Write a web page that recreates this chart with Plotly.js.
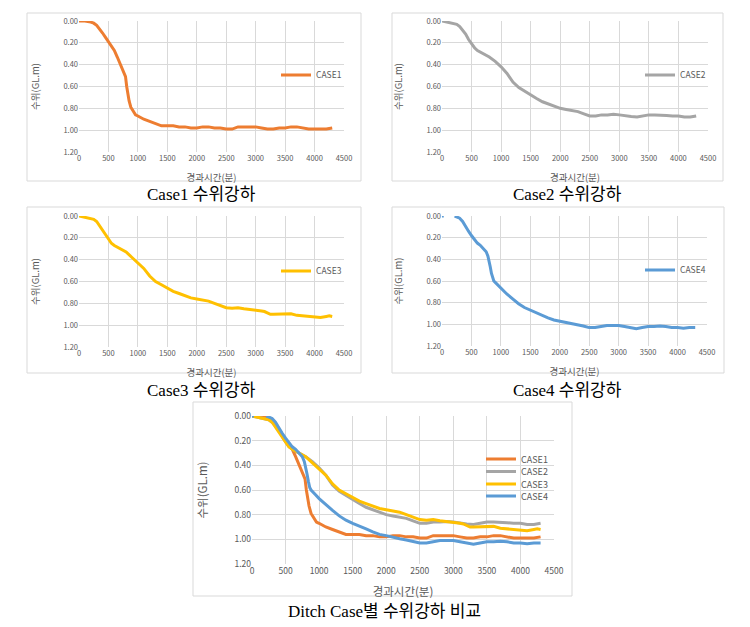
<!DOCTYPE html>
<html>
<head>
<meta charset="utf-8">
<script src="https://cdn.plot.ly/plotly-3.0.1.min.js"></script>
<style>html,body{margin:0;padding:0;background:#fff;}#chart{width:750px;height:627px;}</style>
</head>
<body>
<div id="chart"></div>
<script>
// ---- data (time in minutes, water level drop GL.m) ----
const t1 = [0,100,200,250,300,350,400,450,500,550,600,650,700,750,790,810,830,850,880,920,960,1000,1100,1200,1300,1400,1500,1600,1700,1800,1900,2000,2100,2200,2300,2400,2500,2600,2700,2800,2900,3000,3100,3200,3300,3400,3500,3600,3700,3800,3900,4000,4100,4200,4300];
const case1 = [0.00,0.00,0.01,0.02,0.04,0.07,0.11,0.15,0.19,0.23,0.27,0.33,0.40,0.46,0.51,0.60,0.68,0.73,0.79,0.83,0.86,0.87,0.90,0.92,0.94,0.96,0.96,0.96,0.97,0.97,0.98,0.98,0.97,0.97,0.98,0.98,0.99,0.99,0.97,0.97,0.97,0.97,0.98,0.99,0.99,0.98,0.98,0.97,0.97,0.98,0.99,0.99,0.99,0.99,0.98];

const t2 = [0,100,200,250,300,350,400,450,500,550,600,700,800,900,1000,1100,1200,1300,1400,1500,1600,1700,1800,1900,2000,2100,2200,2300,2400,2500,2600,2700,2800,2900,3000,3100,3200,3300,3400,3500,3600,3700,3800,3900,4000,4100,4200,4300];
const case2 = [0.00,0.01,0.02,0.03,0.05,0.08,0.12,0.17,0.21,0.245,0.27,0.30,0.33,0.37,0.42,0.48,0.56,0.61,0.645,0.68,0.71,0.74,0.76,0.78,0.80,0.81,0.82,0.83,0.85,0.87,0.87,0.86,0.86,0.855,0.86,0.87,0.875,0.88,0.87,0.86,0.86,0.86,0.865,0.87,0.87,0.88,0.88,0.87];

const t3 = [0,100,200,250,300,350,400,450,500,550,600,700,800,900,1000,1100,1200,1300,1400,1500,1600,1700,1800,1900,2000,2100,2200,2300,2400,2500,2600,2700,2800,2900,3000,3100,3150,3200,3250,3300,3400,3500,3600,3700,3800,3900,4000,4100,4200,4250,4300];
const case3 = [0.00,0.01,0.02,0.03,0.05,0.09,0.13,0.18,0.22,0.25,0.27,0.30,0.33,0.38,0.43,0.48,0.55,0.60,0.63,0.66,0.69,0.71,0.73,0.75,0.76,0.77,0.78,0.80,0.82,0.84,0.845,0.84,0.85,0.855,0.86,0.87,0.875,0.89,0.90,0.90,0.90,0.895,0.895,0.91,0.915,0.925,0.925,0.93,0.92,0.915,0.92];

const t4 = [0,30,100,215,250,300,350,400,450,500,550,600,650,700,750,780,800,820,840,860,880,900,950,1000,1100,1200,1300,1400,1500,1600,1700,1800,1900,2000,2100,2200,2300,2400,2500,2600,2700,2800,2900,3000,3100,3200,3300,3400,3500,3600,3700,3800,3900,4000,4100,4200,4300];
const case4 = [0.00,0.00,null,0.00,0.01,0.02,0.05,0.10,0.14,0.18,0.22,0.25,0.27,0.30,0.33,0.37,0.41,0.47,0.53,0.58,0.60,0.61,0.64,0.67,0.72,0.765,0.81,0.845,0.87,0.89,0.915,0.94,0.96,0.97,0.985,0.995,1.005,1.015,1.03,1.03,1.02,1.01,1.01,1.01,1.02,1.03,1.04,1.03,1.02,1.02,1.015,1.02,1.03,1.03,1.035,1.03,1.03];

const seriesNames = ['CASE1','CASE2','CASE3','CASE4'];
const seriesX = [t1,t2,t3,t4];
const seriesY = [case1,case2,case3,case4];
const colors = ['#ED7D31','#A5A5A5','#FFC000','#5B9BD5'];
const captions = ['Case1 수위강하','Case2 수위강하','Case3 수위강하','Case4 수위강하','Ditch Case별 수위강하 비교'];
const xTitle = '경과시간(분)';
const yTitle = '수위(GL.m)';

// ---- layout helpers (pixel -> paper) ----
const W = 750, H = 627;
const px = v => v / W;
const py = v => 1 - v / H;

// plot areas [left, right, top, bottom] in px
const areas = [
  [79, 344, 21, 152],
  [442, 708, 21, 152],
  [79, 344, 216, 347],
  [442, 707, 216, 346],
  [252, 554, 416, 564]
];
const boxes = [
  [27, 361, 13, 181],
  [392, 723, 13, 181],
  [27, 361, 207, 373],
  [392, 724, 207, 373],
  [193, 572, 402, 596]
];
const capPos = [[201,194],[567,194],[201,390],[567,390],[384,611]];

const axisFont = {family: 'Noto Sans CJK KR, Noto Sans, sans-serif', color: '#595959'};
const layout = {
  width: W, height: H,
  margin: {l:0, r:0, t:0, b:0},
  paper_bgcolor: '#fff', plot_bgcolor: 'rgba(0,0,0,0)',
  font: axisFont,
  shapes: [], annotations: []
};

areas.forEach((a, i) => {
  const big = i === 4;
  const k = i === 0 ? '' : String(i + 1);
  layout['xaxis' + k] = {
    domain: [px(a[0]), px(a[1])], anchor: 'y' + k,
    range: [0, 4500], tickmode: 'linear', dtick: 500, tick0: 0,
    showgrid: true, gridcolor: '#d9d9d9', gridwidth: 1,
    zeroline: false, showline: false, ticks: '',
    tickfont: {size: big ? 8.5 : 7.5, color: '#595959'},
    title: {text: xTitle, font: {size: big ? 11.5 : 9.5, color: '#595959'}, standoff: big ? 13 : 12}
  };
  layout['yaxis' + k] = {
    domain: [py(a[3]), py(a[2])], anchor: 'x' + k,
    range: [1.2, 0], tickmode: 'linear', tick0: 0, dtick: 0.2, tickformat: '.2f',
    showgrid: true, gridcolor: '#d9d9d9', gridwidth: 1,
    zeroline: false, showline: false, ticks: '',
    tickfont: {size: big ? 8.5 : 7.5, color: '#595959'},
    title: {text: yTitle, font: {size: big ? 11.5 : 9.5, color: '#595959'}, standoff: big ? 24 : 22}
  };
  const b = boxes[i];
  layout.shapes.push({type:'rect', xref:'paper', yref:'paper', x0:px(b[0]), x1:px(b[1]), y0:py(b[3]), y1:py(b[2]), line:{color:'#d9d9d9', width:1}, fillcolor:'rgba(0,0,0,0)', layer:'below'});
  layout.annotations.push({
    xref:'paper', yref:'paper', x: px(capPos[i][0]), y: py(capPos[i][1]),
    xanchor:'center', yanchor:'middle', showarrow:false,
    text: captions[i],
    font: {family: 'Liberation Serif, Noto Sans CJK KR, serif', size: 17, color: '#000'}
  });
});

// legends
const legPos = [[276,75],[640,75],[276,271],[640,270]];
const legBig = [[481,459],[481,471.5],[481,484],[481,496]];
const traces = [];
for (let i = 0; i < 4; i++) {
  const k = i === 0 ? '' : String(i + 1);
  const lid = i === 0 ? 'legend' : 'legend' + (i + 1);
  layout[lid] = {
    x: px(legPos[i][0]), y: py(legPos[i][1]), xanchor:'left', yanchor:'middle',
    bgcolor:'rgba(0,0,0,0)', font:{size: 8.5, color:'#595959'}, itemwidth: 30
  };
  traces.push({
    type:'scatter', mode:'lines', x: seriesX[i], y: seriesY[i], name: seriesNames[i],
    xaxis:'x' + k, yaxis:'y' + k, legend: lid,
    line:{color: colors[i], width: 3}, connectgaps: false, showlegend: true
  });
}
for (let i = 0; i < 4; i++) {
  const lid = 'legend' + (i + 5);
  layout[lid] = {
    x: px(legBig[i][0]), y: py(legBig[i][1]), xanchor:'left', yanchor:'middle',
    bgcolor:'rgba(0,0,0,0)', font:{size: 9, color:'#595959'}, itemwidth: 30
  };
  traces.push({
    type:'scatter', mode:'lines', x: seriesX[i], y: seriesY[i], name: seriesNames[i],
    xaxis:'x5', yaxis:'y5', legend: lid,
    line:{color: colors[i], width: 3}, connectgaps: false, showlegend: true
  });
}

Plotly.newPlot('chart', traces, layout, {displayModeBar: false, staticPlot: true});
</script>
</body>
</html>
